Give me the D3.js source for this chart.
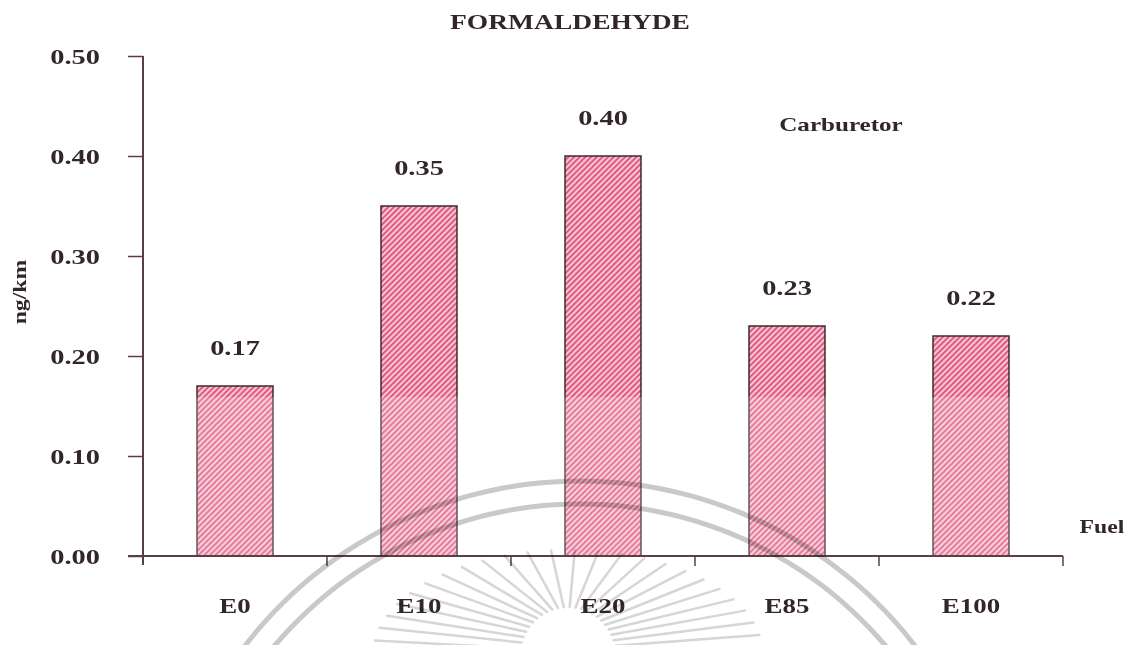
<!DOCTYPE html>
<html>
<head>
<meta charset="utf-8">
<script src="https://cdn.jsdelivr.net/npm/d3@7/dist/d3.min.js"></script>
<style>
  html, body { margin: 0; padding: 0; background: #fff; }
  svg text { font-family: "Liberation Serif", "Times New Roman", serif; font-weight: bold; fill: #33262a; }
</style>
</head>
<body>
<svg id="chart" width="1135" height="645"></svg>
<script>
// Formaldehyde emission per fuel blend (carburetor engine)
const categories = ["E0", "E10", "E20", "E85", "E100"];
const values = [0.17, 0.35, 0.40, 0.23, 0.22];
const yTicks = [0.00, 0.10, 0.20, 0.30, 0.40, 0.50];

const svg = d3.select("#chart");
const plotLeft = 143, plotRight = 1063, plotTop = 56, plotBottom = 556;

const x = d3.scaleBand().domain(categories).range([plotLeft, plotRight]).padding(0);
const y = d3.scaleLinear().domain([0, 0.5]).range([plotBottom, plotTop]);

// widen text horizontally like the original typeface
function stretch(sel, k) {
  sel.each(function () {
    const w = this.getComputedTextLength();
    d3.select(this).attr("textLength", w * k).attr("lengthAdjust", "spacingAndGlyphs");
  });
}

// hatch pattern for the bars
const defs = svg.append("defs");
const pat = defs.append("pattern")
  .attr("id", "hatch").attr("patternUnits", "userSpaceOnUse")
  .attr("width", 4).attr("height", 4)
  .attr("patternTransform", "rotate(45)");
pat.append("rect").attr("width", 4).attr("height", 4).attr("fill", "#f7c6d3");
pat.append("rect").attr("width", 1.9).attr("height", 4).attr("fill", "#df5580");

// bars
const barW = x.bandwidth() * 0.413;
svg.append("g").selectAll("rect").data(values).join("rect")
  .attr("x", (d, i) => x(categories[i]) + x.bandwidth() / 2 - barW / 2)
  .attr("y", d => y(d))
  .attr("width", barW)
  .attr("height", d => y(0) - y(d))
  .attr("fill", "url(#hatch)")
  .attr("stroke", "#3b2b30")
  .attr("stroke-width", 1.5);

// y axis
const yAxis = svg.append("g")
  .attr("transform", `translate(${plotLeft},0)`)
  .call(d3.axisLeft(y).tickValues(yTicks).tickFormat(d3.format(".2f")).tickSize(15).tickPadding(28));
yAxis.select(".domain").attr("stroke", "#5b3c47").attr("stroke-width", 2)
  .attr("d", `M0,${plotTop}V${plotBottom + 9}`);
yAxis.selectAll(".tick line").attr("stroke", "#5b3c47").attr("stroke-width", 1.5);
yAxis.selectAll(".tick text")
  .style("font-size", "20px").style("font-family", "'Liberation Serif', serif")
  .style("font-weight", "bold").attr("fill", "#3a2a2f").attr("dy", "0.35em");
stretch(yAxis.selectAll(".tick text"), 1.42);

// x axis
const xAxis = svg.append("g").attr("transform", `translate(0,${plotBottom})`);
xAxis.append("line").attr("x1", plotLeft - 15).attr("x2", plotRight).attr("y1", 0).attr("y2", 0)
  .attr("stroke", "#5b3c47").attr("stroke-width", 2);
const bounds = categories.map(c => x(c)).concat([plotRight]);
xAxis.selectAll("line.tk").data(bounds.slice(1)).join("line").attr("class", "tk")
  .attr("x1", d => d).attr("x2", d => d).attr("y1", 0).attr("y2", 10)
  .attr("stroke", "#5b3c47").attr("stroke-width", 1.5);
const xl = xAxis.selectAll("text").data(categories).join("text")
  .attr("x", d => x(d) + x.bandwidth() / 2).attr("y", 57)
  .attr("text-anchor", "middle").style("font-size", "21px").text(d => d);
stretch(xl, 1.28);

// value labels
const vl = svg.append("g").selectAll("text").data(values).join("text")
  .attr("x", (d, i) => x(categories[i]) + x.bandwidth() / 2)
  .attr("y", d => y(d) - 31)
  .attr("text-anchor", "middle").style("font-size", "20px")
  .text(d => d3.format(".2f")(d));
stretch(vl, 1.42);

// title and annotations
const title = svg.append("text").attr("x", 570).attr("y", 29).attr("text-anchor", "middle")
  .style("font-size", "22px").text("FORMALDEHYDE");
stretch(title, 1.25);
const carb = svg.append("text").attr("x", 841).attr("y", 131).attr("text-anchor", "middle")
  .style("font-size", "19px").text("Carburetor");
stretch(carb, 1.32);
const fuel = svg.append("text").attr("x", 1102).attr("y", 533).attr("text-anchor", "middle")
  .style("font-size", "19px").text("Fuel");
stretch(fuel, 1.25);
const yl = svg.append("text").attr("transform", "translate(26,292) rotate(-90)")
  .attr("text-anchor", "middle").style("font-size", "19px").text("ng/km");
stretch(yl, 1.25);

// faint seal in the background
const wm = svg.append("g").attr("pointer-events", "none");
wm.append("rect").attr("x", plotLeft + 2).attr("y", 397).attr("width", plotRight - plotLeft).attr("height", plotBottom - 398)
  .attr("fill", "#fff").attr("opacity", 0.2);
const seal = wm.append("g").style("mix-blend-mode", "multiply");
const arc = d3.arc();
[[423, 5], [400, 5]].forEach(([r, w]) => {
  seal.append("path")
    .attr("transform", "translate(580,904)")
    .attr("d", arc({ innerRadius: r - w / 2, outerRadius: r + w / 2, startAngle: -Math.PI * 0.33, endAngle: Math.PI * 0.33 }))
    .attr("fill", "#c9c9c9");
});
const rayAngles = d3.range(-82, 83, 7);
const rad = a => a * Math.PI / 180;
seal.selectAll("line.ray").data(rayAngles).join("line").attr("class", "ray")
  .attr("x1", a => 568 + 48 * Math.sin(rad(a)))
  .attr("y1", a => 655 - 48 * Math.cos(rad(a)))
  .attr("x2", a => 568 + 195 * Math.sin(rad(a)))
  .attr("y2", a => 655 - 105 * Math.cos(rad(a)))
  .attr("stroke", "#d6d6d6").attr("stroke-width", 2.5).attr("stroke-linecap", "round");
</script>
</body>
</html>
